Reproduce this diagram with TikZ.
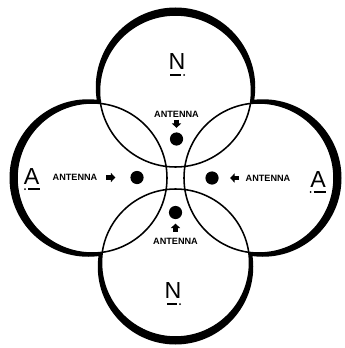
\documentclass[tikz,border=0pt]{standalone}
\usepackage{fontspec}
\setmainfont{Liberation Sans}
\usetikzlibrary{arrows.meta,calc}

\tikzset{
  ring/.style={line width=1.1pt},
  band/.style={fill=black, even odd rule},
  antlabel/.style={font=\bfseries\fontsize{6.5}{7}\selectfont, inner sep=1pt},
  bigletter/.style={font=\fontsize{16.5}{18}\selectfont, inner sep=0pt, anchor=base},
  antdot/.style={circle, fill=black, inner sep=0pt, minimum size=0.33cm},
  antarrow/.style={line width=3.2pt, -{Triangle[width=6.5pt,length=3.2pt]}},
  ulbar/.style={line width=1.3pt}
}

\begin{document}
\begin{tikzpicture}[x=0.025cm, y=-0.025cm]
\useasboundingbox (0,0) rectangle (344,348);

% Ring centres
\coordinate (cT) at (175.5,91);
\coordinate (cB) at (175.5,263);
\coordinate (cL) at (92,178);
\coordinate (cR) at (259,178);

% Thin rings
\draw[ring] (cT) circle (76);
\draw[ring] (cB) circle (74);
\draw[ring] (cL) circle (75);
\draw[ring] (cR) circle (75);

% Heavy outer rims
\begin{scope}
\clip (0,0) rectangle (344,103);
\fill[band] (175.5,87.25) circle (79.75) (cT) circle (76);
\end{scope}
\begin{scope}
\clip (0,252.5) rectangle (344,348);
\fill[band] (175.5,266.75) circle (77.75) (cB) circle (74);
\end{scope}
\begin{scope}
\clip (0,0) rectangle (101,348);
\fill[band] (88.25,178) circle (78.75) (cL) circle (75);
\end{scope}
\begin{scope}
\clip (250.5,0) rectangle (344,348);
\fill[band] (262.75,178) circle (78.75) (cR) circle (75);
\end{scope}

% Letters
\node[bigletter] (nT) at (177,70) {N};
\node[bigletter] (nB) at (173,298) {N};
\node[bigletter] (aL) at (31.5,184) {A};
\node[bigletter] (aR) at (318,187) {A};

% Letter marks
\draw[ulbar] ($(nT.base)+(-7,5)$) -- +(11,0);
\fill ($(nT.base)+(7,5)$) circle (1);
\draw[ulbar] ($(nB.base)+(-6,6)$) -- +(10,0);
\fill ($(nB.base)+(7,6)$) circle (1);
\draw[ulbar] ($(aL.base)+(-3.5,5)$) -- +(12,0);
\fill ($(aL.base)+(-6.5,5)$) circle (1);
\draw[ulbar] ($(aR.base)+(-4.5,5)$) -- +(12,0);
\fill ($(aR.base)+(-7.5,5)$) circle (1);

% Antennas
\node[antlabel] (antT) at (176.5,114) {ANTENNA};
\node[antdot] (dotT) at (176.5,139) {};
\node[antlabel] (antL) at (75,177.5) {ANTENNA};
\node[antdot] (dotL) at (137,177.5) {};
\node[antlabel] (antR) at (268,178) {ANTENNA};
\node[antdot] (dotR) at (212,178) {};
\node[antlabel] (antB) at (175.5,241) {ANTENNA};
\node[antdot] (dotB) at (175.5,212.5) {};

% Arrows
\draw[antarrow, shorten <=0.6pt, shorten >=3pt] (antT) -- (dotT);
\draw[antarrow, shorten <=5pt, shorten >=10.5pt] (antL) -- (dotL);
\draw[antarrow, shorten <=3.5pt, shorten >=8pt] (antR) -- (dotR);
\draw[antarrow, shorten <=3.2pt, shorten >=3pt] (antB) -- (dotB);

\end{tikzpicture}
\end{document}
